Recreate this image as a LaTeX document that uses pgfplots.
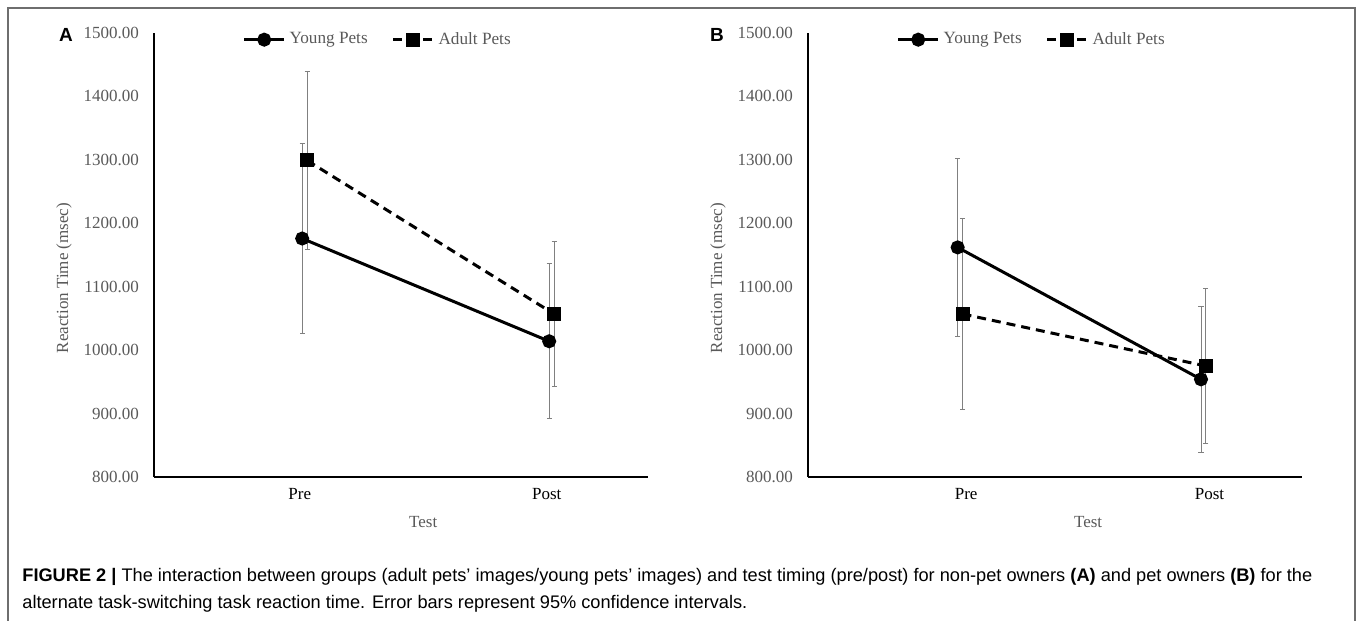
\documentclass[border=0pt]{standalone}
\usepackage{fontspec}
\setmainfont{Liberation Serif}
\setsansfont{Liberation Sans}
\usepackage{pgfplots}
\pgfplotsset{compat=1.18}
\definecolor{TxtGray}{HTML}{595959}
\definecolor{BarGray}{HTML}{808080}
\definecolor{FrameGray}{HTML}{6E6E6E}

\pgfplotsset{
  rtpanel/.style={
    width=247pt, height=222pt, scale only axis,
    axis lines=left, axis line style={-, black, line width=0.6pt},
    ymin=800, ymax=1500, ytick={800,900,...,1500},
    major tick length=0pt,
    xtick={0,1}, xticklabels={Pre,Post},
    tick label style={font=\fontsize{8.5}{10}\selectfont},
    yticklabel style={text=TxtGray, xshift=-4pt},
    xticklabel style={text=black, yshift=-2pt},
    /pgf/number format/fixed,
    /pgf/number format/fixed zerofill,
    /pgf/number format/precision=2,
    /pgf/number format/1000 sep={},
    /pgf/number format/assume math mode=true,
    xlabel={Test}, ylabel={Reaction Time (msec)},
    label style={font=\fontsize{8.5}{10}\selectfont, text=TxtGray},
    legend style={draw=none, fill=none, legend columns=2, at={(0.455,0.985)}, anchor=center,
      font=\fontsize{8.6}{10}\selectfont, text=TxtGray,
      /tikz/every even column/.append style={column sep=10pt}},
    legend image code/.code={\draw[mark repeat=2,mark phase=2] plot coordinates {(0cm,0cm)(0.35cm,0cm)(0.7cm,0cm)};},
    legend cell align=left,
    clip=false,
  },
  young/.style={black, line width=1.5pt, mark=*, mark size=2.75pt,
    error bars/.cd, y dir=both, y explicit,
    error bar style={BarGray, line width=0.5pt, solid},
    error mark options={BarGray, line width=0.5pt, mark size=1.3pt, solid, rotate=90}},
  adult/.style={black, line width=1.5pt, dash pattern=on 4.5pt off 3pt, mark=square*, mark size=2.75pt,
    mark options={solid},
    error bars/.cd, y dir=both, y explicit,
    error bar style={BarGray, line width=0.5pt, solid},
    error mark options={BarGray, line width=0.5pt, mark size=1.3pt, solid, rotate=90}},
}

\begin{document}
\begin{tikzpicture}
\useasboundingbox (0,0) rectangle (678.5pt,-310.5pt);

% panel A: non-pet owners
\begin{axis}[rtpanel, at={(77pt,-238.5pt)}, anchor=south west,
  xmin=-0.59, xmax=1.41,
  xlabel style={at={(axis description cs:0.545,0)}, anchor=north, yshift=-16pt},
  ylabel style={at={(axis description cs:-0.182,0.448)}, anchor=center}]
\addplot[young] coordinates {(0.01,1176) +- (0,150) (1.01,1014) +- (0,122)};
\addlegendentry{Young Pets}
\addplot[adult] coordinates {(0.03,1299) +- (0,140) (1.03,1057) +- (0,115)};
\addlegendentry{Adult Pets}
\end{axis}

% panel B: pet owners
\begin{axis}[rtpanel, at={(404pt,-238.5pt)}, anchor=south west,
  xmin=-0.65, xmax=1.38,
  xlabel style={at={(axis description cs:0.567,0)}, anchor=north, yshift=-16pt},
  ylabel style={at={(axis description cs:-0.182,0.448)}, anchor=center}]
\addplot[young] coordinates {(-0.035,1162) +- (0,140) (0.965,954) +- (0,115)};
\addlegendentry{Young Pets}
\addplot[adult] coordinates {(-0.015,1057) +- (0,150) (0.985,975) +- (0,122)};
\addlegendentry{Adult Pets}
\end{axis}

% frame, panel letters, caption
\draw[FrameGray, line width=0.6pt] (4pt,-310.5pt) -- (4pt,-4pt) -- (677.5pt,-4pt) -- (677.5pt,-310.5pt);
\node[font=\sffamily\bfseries\fontsize{9.5}{11}\selectfont] at (33pt,-17.5pt) {A};
\node[font=\sffamily\bfseries\fontsize{9.5}{11}\selectfont] at (358.5pt,-17.5pt) {B};
\node[anchor=base west, inner sep=0pt, font=\sffamily\fontsize{9.1}{11}\selectfont] at (11pt,-290.5pt)
  {\textbf{FIGURE 2 |} The interaction between groups (adult pets’ images/young pets’ images) and test timing (pre/post) for non-pet owners \textbf{(A)} and pet owners \textbf{(B)} for the};
\node[anchor=base west, inner sep=0pt, font=\sffamily\fontsize{9.1}{11}\selectfont] at (11pt,-304pt)
  {alternate task-switching task reaction time. Error bars represent 95\% confidence intervals.};
\end{tikzpicture}
\end{document}
